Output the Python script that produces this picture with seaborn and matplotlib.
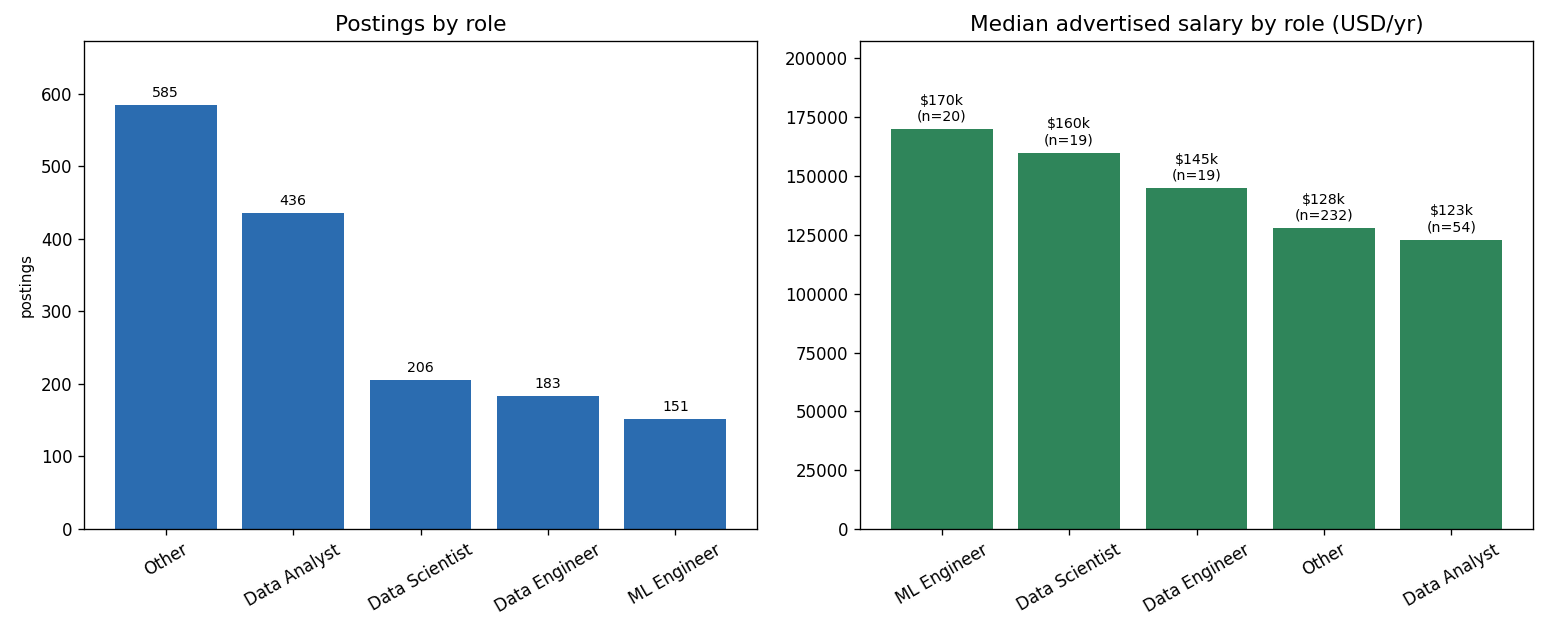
import numpy as np
import pandas as pd
import matplotlib
matplotlib.use('Agg')
import matplotlib.pyplot as plt
import seaborn as sns

# postings by role
roles_count = ['Other', 'Data Analyst', 'Data Scientist', 'Data Engineer', 'ML Engineer']
postings = [585, 436, 206, 183, 151]

# median salary by role
roles_salary = ['ML Engineer', 'Data Scientist', 'Data Engineer', 'Other', 'Data Analyst']
median_salary = [170000, 160000, 145000, 128000, 123000]
n_salary = [20, 19, 19, 232, 54]

blue = '#2b6cb0'
green = '#2f855a'

df_count = pd.DataFrame({'role': roles_count, 'postings': postings})
df_sal = pd.DataFrame({'role': roles_salary, 'salary': median_salary, 'n': n_salary})

W, H = 1544, 634
fig, (ax1, ax2) = plt.subplots(1, 2, figsize=(W/120, H/120), dpi=120)

sns.barplot(data=df_count, x='role', y='postings', color=blue, saturation=1, width=0.8, ax=ax1)
ax1.bar_label(ax1.containers[0], labels=[str(v) for v in postings], padding=3, fontsize=8.5)
ax1.set_ylim(0, max(postings) * 1.15)
ax1.set_xlim(-0.64, 4.64)
ax1.set_title('Postings by role', fontsize=13)
ax1.set_xlabel('')
ax1.set_ylabel('postings', fontsize=9)
ax1.tick_params(axis='x', rotation=30)

sns.barplot(data=df_sal, x='role', y='salary', color=green, saturation=1, width=0.8, ax=ax2)
sal_labels = ['${}k\n(n={})'.format(int(round(s / 1000)), n) for s, n in zip(median_salary, n_salary)]
ax2.bar_label(ax2.containers[0], labels=sal_labels, padding=3, fontsize=8.5)
ax2.set_ylim(0, max(median_salary) * 1.22)
ax2.set_xlim(-0.64, 4.64)
ax2.set_title('Median advertised salary by role (USD/yr)', fontsize=13)
ax2.set_xlabel('')
ax2.set_ylabel('')
ax2.tick_params(axis='x', rotation=30)

bottom = 1 - 529/H
height = (529 - 41)/H
ax1.set_position([84/W, bottom, (757-84)/W, height])
ax2.set_position([860/W, bottom, (1533-860)/W, height])
plt.savefig('out.png', dpi=120)
